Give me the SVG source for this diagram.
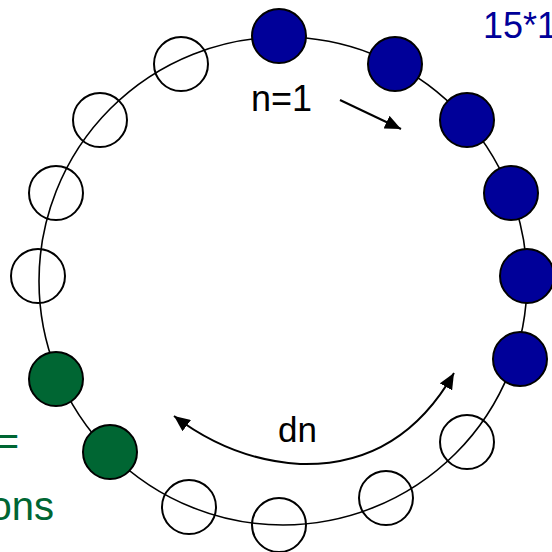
<svg xmlns="http://www.w3.org/2000/svg" width="552" height="552" viewBox="0 0 552 552">
<style>
.ring{fill:none;stroke:#000;stroke-width:1.6}
.n{stroke:#000;stroke-width:2}
.open{fill:#fff;fill-opacity:0}
.blue{fill:#000099}
.green{fill:#006633}
.arr{fill:none;stroke:#000;stroke-width:2}
.t{font-family:"Liberation Sans",Arial,sans-serif}
</style>
<defs>
<marker id="ah" viewBox="0 0 16 14" refX="16" refY="7" markerWidth="16" markerHeight="14" markerUnits="userSpaceOnUse" orient="auto-start-reverse">
<path d="M0,0 L16,7 L0,14 Z" fill="#000"/>
</marker>
</defs>
<rect width="552" height="552" fill="#fff"/>
<circle class="ring" cx="283" cy="281" r="244"/>
<g id="nodes">
<g id="c1"><circle class="n blue" cx="279" cy="36" r="27"/></g>
<g id="c2"><circle class="n blue" cx="395" cy="64" r="27"/></g>
<g id="c3"><circle class="n blue" cx="467" cy="120" r="27"/></g>
<g id="c4"><circle class="n blue" cx="511" cy="193" r="27"/></g>
<g id="c5"><circle class="n blue" cx="527" cy="276" r="27"/></g>
<g id="c6"><circle class="n blue" cx="520" cy="359" r="27"/></g>
<g id="c7"><circle class="n open" cx="467" cy="442" r="27"/></g>
<g id="c8"><circle class="n open" cx="386" cy="498" r="27"/></g>
<g id="c9"><circle class="n open" cx="279" cy="525" r="27"/></g>
<g id="c10"><circle class="n open" cx="189" cy="507" r="27"/></g>
<g id="c11"><circle class="n green" cx="110" cy="452" r="27"/></g>
<g id="c12"><circle class="n green" cx="56" cy="379" r="27"/></g>
<g id="c13"><circle class="n open" cx="38" cy="276" r="27"/></g>
<g id="c14"><circle class="n open" cx="56" cy="193" r="27"/></g>
<g id="c15"><circle class="n open" cx="100" cy="120" r="27"/></g>
<g id="c16"><circle class="n open" cx="181" cy="64" r="27"/></g>
</g>
<g id="connectors">
<path class="arr" d="M340,100 L401,129" marker-end="url(#ah)"/>
<path class="arr" d="M174,416 Q232,460 300,464 Q400,467 454,373" marker-start="url(#ah)" marker-end="url(#ah)"/>
</g>
<g id="labels" class="t">
<text x="483" y="38" font-size="36" fill="#000099">15*1</text>
<text x="251" y="111" font-size="36" fill="#000">n=1</text>
<text x="278" y="442" font-size="35" fill="#000">dn</text>
<text x="19" y="455" font-size="40" fill="#006633" text-anchor="end">=</text>
<text x="54" y="520" font-size="40" fill="#006633" text-anchor="end">ons</text>
</g>
</svg>
